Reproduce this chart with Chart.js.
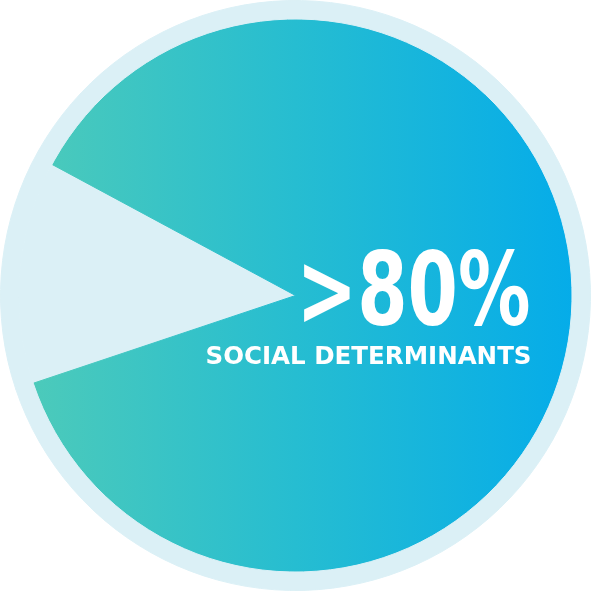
<!DOCTYPE html>
<html>
<head>
<meta charset="utf-8">
<script src="https://cdn.jsdelivr.net/npm/chart.js@4"></script>
<style>
  html, body { margin: 0; padding: 0; background: #ffffff; }
  #wrap { width: 591px; height: 591px; }
</style>
</head>
<body>
<div id="wrap"><canvas id="c" width="591" height="591"></canvas></div>
<script>
// ---- data ----
const categories = ["Other factors", "Social determinants"];
const shares = [13, 87];              // percent of the pie
const ringValues = [1];               // decorative outer ring (full circle)
const headlineText = ">80%";
const subtitleText = "SOCIAL DETERMINANTS";

// ---- styles ----
const paleBlue = "#dbf0f6";
const gradStops = [[0, "#4ecbb9"], [0.5, "#26bdd1"], [1, "#05ace9"]];

function sliceColor(ctx) {
  const chart = ctx.chart;
  const area = chart.chartArea;
  if (!area) return "#26bdd1";
  if (ctx.dataIndex === 0) return paleBlue;
  const g = chart.ctx.createLinearGradient(area.left + 18, 0, area.right - 18, 0);
  gradStops.forEach(s => g.addColorStop(s[0], s[1]));
  return g;
}

const centerText = {
  id: "centerText",
  afterDraw(chart) {
    const c = chart.ctx;
    const a = chart.chartArea;
    const cx = (a.left + a.right) / 2;
    const cy = (a.top + a.bottom) / 2;
    function fitText(text, font, left, right, baseline) {
      c.save();
      c.font = font;
      c.fillStyle = "#ffffff";
      c.textBaseline = "alphabetic";
      c.textAlign = "left";
      const w = c.measureText(text).width;
      const sx = (right - left) / w;
      c.translate(left, baseline);
      c.scale(sx, 1);
      c.fillText(text, 0, 0);
      c.restore();
    }
    fitText(headlineText, "bold 101px 'DejaVu Sans Condensed', 'Liberation Sans Narrow', sans-serif",
      cx + 1, cx + 235, cy + 29);
    fitText(subtitleText, "bold 25.5px 'DejaVu Sans Condensed', 'Liberation Sans Narrow', sans-serif",
      cx - 90, cx + 236, cy + 68);
  }
};

new Chart(document.getElementById("c"), {
  type: "doughnut",
  data: {
    labels: categories,
    datasets: [
      {
        data: ringValues,
        backgroundColor: paleBlue,
        borderColor: paleBlue,
        borderWidth: 1,
        weight: 18.5
      },
      {
        data: shares,
        backgroundColor: sliceColor,
        borderColor: sliceColor,
        borderWidth: 1,
        weight: 277
      }
    ]
  },
  options: {
    responsive: false,
    devicePixelRatio: 1,
    animation: false,
    cutout: 0,
    rotation: 251.5,
    hoverOffset: 0,
    layout: { padding: 0 },
    plugins: {
      legend: { display: false },
      tooltip: { enabled: false },
      title: { display: false }
    }
  },
  plugins: [centerText]
});
</script>
</body>
</html>
